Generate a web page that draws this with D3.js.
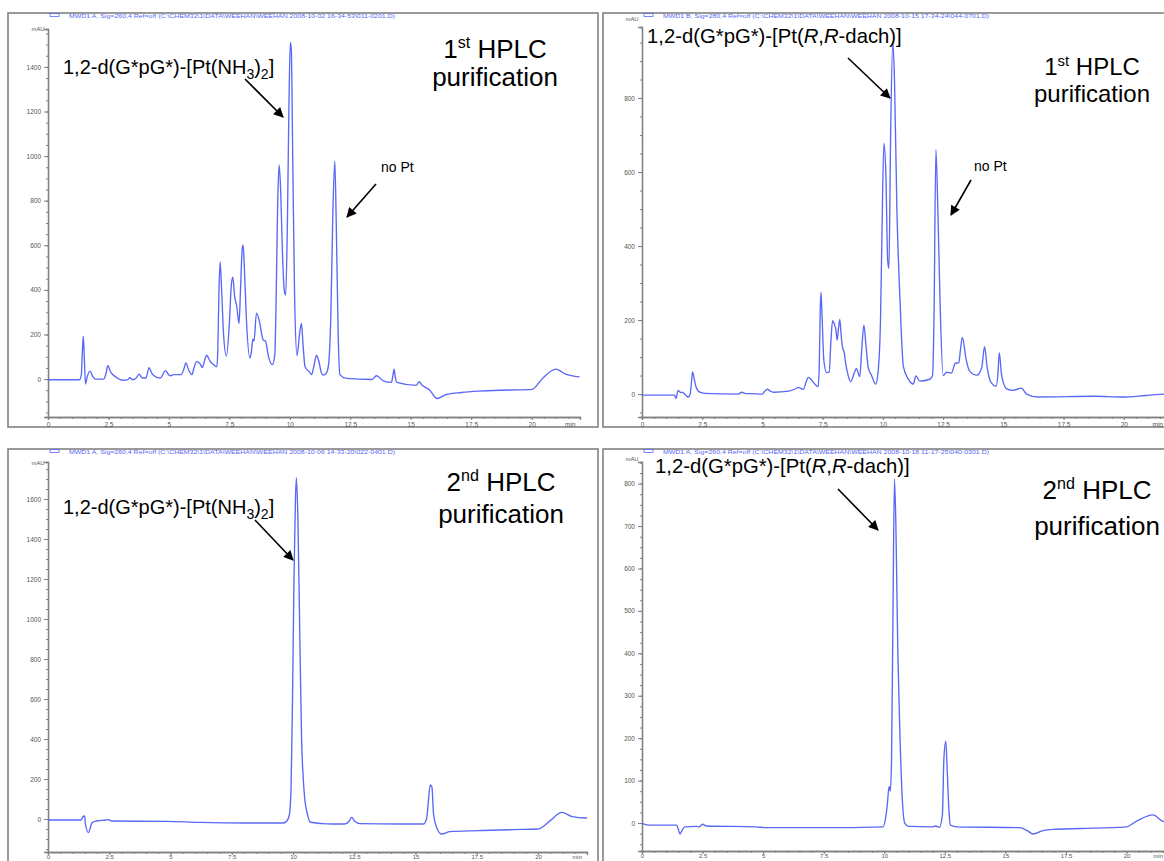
<!DOCTYPE html>
<html><head><meta charset="utf-8">
<script src="https://cdn.jsdelivr.net/npm/d3@7"></script>
<style>body{margin:0;background:#fff}svg{display:block}text{font-family:"Liberation Sans",Arial,sans-serif}</style>
</head><body><svg id="c" width="1164" height="861"></svg>
<script>
// ---------- DATA ----------
const xTicks = [0, 2.5, 5, 7.5, 10, 12.5, 15, 17.5, 20];
const yTicks1 = [0, 200, 400, 600, 800, 1000, 1200, 1400];
const yTicks2 = [0, 200, 400, 600, 800];
const yTicks3 = [0, 200, 400, 600, 800, 1000, 1200, 1400, 1600];
const yTicks4 = [0, 100, 200, 300, 400, 500, 600, 700, 800];

const legend1 = "MWD1 A, Sig=260,4 Ref=off (C:\\CHEM32\\1\\DATA\\WEEHAN\\WEEHAN 2008-10-02 16-34-53\\011-0201.D)";
const legend2 = "MWD1 B, Sig=280,4 Ref=off (C:\\CHEM32\\1\\DATA\\WEEHAN\\WEEHAN 2008-10-15 17-34-24\\044-0701.D)";
const legend3 = "MWD1 A, Sig=260,4 Ref=off (C:\\CHEM32\\1\\DATA\\WEEHAN\\WEEHAN 2008-10-06 14-33-20\\022-0401.D)";
const legend4 = "MWD1 A, Sig=260,4 Ref=off (C:\\CHEM32\\1\\DATA\\WEEHAN\\WEEHAN 2008-10-18 11-17-25\\040-0301.D)";

// [time (min), absorbance (mAU)]
const trace1 = [[0,-3],[1.3,-3],[1.38,20],[1.42,120],[1.46,193],[1.5,100],[1.55,-22],[1.62,10],[1.74,36],[1.85,12],[1.96,0],[2.3,0],[2.4,25],[2.47,60],[2.6,30],[2.8,10],[3.1,-5],[3.3,-2],[3.39,6],[3.5,-3],[3.65,5],[3.77,22],[3.9,5],[4.05,5],[4.18,51],[4.3,25],[4.5,8],[4.65,5],[4.86,38],[5.0,18],[5.07,15],[5.2,20],[5.5,20],[5.62,45],[5.7,73],[5.82,40],[5.95,20],[6.05,55],[6.14,78],[6.28,70],[6.38,52],[6.48,85],[6.56,107],[6.7,80],[6.84,65],[6.98,55],[7.02,120],[7.07,400],[7.12,525],[7.18,400],[7.26,200],[7.38,103],[7.5,250],[7.58,420],[7.64,457],[7.72,370],[7.8,330],[7.9,250],[7.96,400],[8.03,580],[8.07,600],[8.12,500],[8.2,280],[8.35,94],[8.42,130],[8.47,179],[8.52,170],[8.62,296],[8.76,250],[8.84,200],[8.9,175],[9.0,170],[9.1,110],[9.28,65],[9.38,110],[9.44,400],[9.5,800],[9.56,960],[9.62,850],[9.7,550],[9.78,390],[9.83,377],[9.9,700],[9.96,1200],[10.02,1510],[10.06,1480],[10.12,1000],[10.2,354],[10.3,105],[10.4,200],[10.48,250],[10.55,150],[10.63,55],[10.83,30],[10.9,20],[11.0,60],[11.1,107],[11.2,80],[11.3,30],[11.38,18],[11.5,25],[11.59,55],[11.7,300],[11.78,750],[11.86,977],[11.92,700],[12.0,200],[12.07,20],[12.34,3],[13.4,-2],[13.58,15],[13.87,-8],[14.2,-15],[14.27,20],[14.31,45],[14.36,10],[14.42,-15],[15.23,-28],[15.35,-12],[15.45,-25],[15.78,-49],[16.09,-87],[16.47,-69],[17.1,-60],[17.8,-54],[19.1,-49],[20.01,-46],[20.46,4],[21.0,45],[21.4,22],[21.98,10]];

const trace2 = [[0,-3],[1.35,-3],[1.41,-12],[1.5,10],[1.6,4],[1.67,5],[1.8,-2],[1.92,-8],[2.0,0],[2.05,30],[2.1,60],[2.17,40],[2.24,20],[2.4,5],[2.6,2],[4.0,0],[4.14,5],[4.3,1],[4.48,1],[5.0,0],[5.1,8],[5.21,13],[5.35,7],[5.45,5],[6.1,8],[6.4,15],[6.49,18],[6.6,15],[6.7,13],[6.8,30],[6.9,45],[7.04,38],[7.2,25],[7.31,20],[7.36,80],[7.4,230],[7.43,275],[7.48,200],[7.55,90],[7.66,58],[7.77,60],[7.84,140],[7.91,198],[7.98,190],[8.05,173],[8.1,146],[8.16,180],[8.21,202],[8.26,165],[8.32,128],[8.4,110],[8.46,80],[8.56,50],[8.66,33],[8.8,55],[8.9,69],[9.04,47],[9.12,120],[9.21,186],[9.3,130],[9.39,72],[9.53,50],[9.7,27],[9.8,60],[9.9,200],[9.96,430],[10.04,678],[10.12,600],[10.2,360],[10.25,340],[10.32,700],[10.41,951],[10.48,850],[10.58,500],[10.71,254],[10.85,74],[11.05,41],[11.26,27],[11.37,49],[11.53,35],[11.95,40],[12.06,50],[12.12,200],[12.2,660],[12.28,500],[12.37,254],[12.5,50],[12.65,59],[12.85,57],[13.0,83],[13.15,85],[13.22,120],[13.3,153],[13.45,95],[13.6,62],[13.9,51],[14.1,71],[14.22,128],[14.33,71],[14.5,30],[14.7,21],[14.78,60],[14.83,112],[14.93,50],[15.14,14],[15.4,10],[15.75,16],[15.96,0],[16.44,-8],[18.8,-6],[19.9,-8],[20.9,-4],[21.7,0],[22,0]];

const trace3 = [[0,-5],[1.35,-5],[1.42,10],[1.5,15],[1.52,-20],[1.65,-68],[1.8,-18],[2.0,-10],[2.35,-5],[2.46,-3],[2.6,-10],[4.84,-12],[6.2,-17],[8.1,-20],[9.6,-20],[9.75,-10],[9.85,20],[9.92,150],[9.98,600],[10.04,1200],[10.1,1600],[10.14,1705],[10.2,1500],[10.28,900],[10.35,400],[10.42,200],[10.5,80],[10.56,40],[10.7,-15],[11.2,-23],[11.6,-25],[12.1,-25],[12.3,-10],[12.39,8],[12.53,-12],[12.73,-23],[14.37,-25],[15.32,-25],[15.45,0],[15.52,80],[15.6,170],[15.67,160],[15.74,20],[15.88,-47],[16.07,-75],[16.4,-63],[17.6,-58],[19.0,-53],[20.01,-50],[20.5,-8],[20.97,33],[21.4,12],[21.92,5],[22,5]];

const trace4 = [[0,-1],[0.26,-5],[1.36,-5],[1.43,-5],[1.5,-15],[1.57,-26],[1.65,-18],[1.77,-9],[2.25,-8],[2.36,-9],[2.5,-3],[2.66,-7],[4.7,-9],[5.1,-11],[7.4,-11],[9.95,-9],[10.05,10],[10.12,40],[10.2,86],[10.25,75],[10.3,150],[10.36,500],[10.42,811],[10.48,700],[10.56,400],[10.65,200],[10.75,50],[10.85,-1],[11.0,-8],[12.01,-9],[12.12,-7],[12.28,-10],[12.4,20],[12.46,150],[12.54,193],[12.6,120],[12.68,20],[12.73,-5],[13.0,-9],[15.59,-11],[15.9,-18],[16.14,-26],[16.55,-18],[16.96,-15],[18.1,-13],[19.99,-9],[20.4,4],[21.09,19],[21.5,4],[22,0]];

const compoundNH3 = "1,2-d(G*pG*)-[Pt(NH3)2]";
const compoundDach = "1,2-d(G*pG*)-[Pt(R,R-dach)]";
const purification1 = ["1", "st", " HPLC", "purification"];
const purification2 = ["2", "nd", " HPLC", "purification"];
const noPt = "no Pt";

// ---------- LAYOUT ----------
const svg = d3.select("#c");
svg.append("rect").attr("width",1164).attr("height",861).attr("fill","#fff");

const panels = [
  {trace:trace1, yTicks:yTicks1, legend:legend1, frame:[8,13,598,427], x0:48, x1:580, yb:417, yt:29, ydom:[-170,1570], ymin:50, minEnd:false, mauY:31, xfs:6.5, xpad:2},
  {trace:trace2, yTicks:yTicks2, legend:legend2, frame:[603,13,1175,427], x0:642, x1:1172, yb:417, yt:27, ydom:[-62,992], ymin:50, minEnd:true, mauY:21, xfs:6.5, xpad:2},
  {trace:trace3, yTicks:yTicks3, legend:legend3, frame:[8,449,598,870], x0:48, x1:587, yb:852, yt:462, ydom:[-165,1785], ymin:50, minEnd:false, mauY:465, xfs:6, xpad:0},
  {trace:trace4, yTicks:yTicks4, legend:legend4, frame:[603,449,1175,870], x0:642, x1:1175, yb:851, yt:462, ydom:[-66,851], ymin:25, minEnd:true, mauY:461, xfs:6, xpad:0}
];
const blue = "#5a68f6";

panels.forEach(p => {
  const g = svg.append("g");
  const [fx0,fy0,fx1,fy1] = p.frame;
  g.append("rect").attr("x",fx0).attr("y",fy0).attr("width",fx1-fx0).attr("height",fy1-fy0)
    .attr("fill","none").attr("stroke","#7a7a7a").attr("stroke-width",1.5);
  const x = d3.scaleLinear().domain([0,22]).range([p.x0,p.x1]);
  const y = d3.scaleLinear().domain(p.ydom).range([p.yb,p.yt]);

  // legend
  g.append("rect").attr("x",p.x0+2).attr("y",fy0+0.5).attr("width",9).attr("height",3)
    .attr("fill","none").attr("stroke",blue).attr("stroke-width",0.8);
  g.append("text").attr("x",p.x0+21).attr("y",fy0+4.5).attr("font-size",5.6).attr("fill",blue)
    .attr("textLength",326).attr("lengthAdjust","spacingAndGlyphs").text(p.legend);
  // mAU
  g.append("text").attr("x",p.x0-10).attr("y",p.mauY).attr("text-anchor","middle").attr("font-size",5.8).attr("fill","#555").text("mAU");

  // y axis
  const yMinor = d3.range(Math.ceil(p.ydom[0]/p.ymin)*p.ymin, p.ydom[1], p.ymin);
  const ya = g.append("g").attr("transform",`translate(${p.x0},0)`);
  ya.call(d3.axisLeft(y).tickValues(yMinor).tickSize(2).tickFormat(""));
  ya.append("g").call(d3.axisLeft(y).tickValues(p.yTicks).tickSize(4).tickPadding(3).tickFormat(d3.format("d")));
  ya.selectAll("path").attr("stroke","#808080").attr("stroke-width",1.3);
  ya.selectAll("line").attr("stroke","#808080");
  ya.selectAll("text").attr("font-size",6.5).attr("fill","#555").attr("font-family","Liberation Sans, Arial");

  // x axis
  const xMinor = d3.range(0, 22.01, 0.5);
  const xa = g.append("g").attr("transform",`translate(0,${p.yb})`);
  xa.call(d3.axisBottom(x).tickValues(xMinor).tickSize(2).tickFormat(""));
  xa.append("g").call(d3.axisBottom(x).tickValues(xTicks).tickSize(3).tickPadding(p.xpad).tickFormat(d => String(d)));
  xa.selectAll("path").attr("stroke","#808080").attr("stroke-width",1.3);
  xa.selectAll("line").attr("stroke","#808080");
  xa.selectAll("text").attr("font-size",p.xfs).attr("fill","#555").attr("font-family","Liberation Sans, Arial");
  const minY = p.yb + 3 + p.xpad + p.xfs*0.71;
  if (p.minEnd) {
    g.append("text").attr("x",1163).attr("y",minY).attr("text-anchor","end").attr("font-size",p.xfs).attr("fill","#555").text("min");
  } else {
    g.append("text").attr("x",x(21.6)).attr("y",minY).attr("text-anchor","middle").attr("font-size",p.xfs).attr("fill","#555").text("min");
  }

  // trace
  g.append("path").datum(p.trace).attr("fill","none").attr("stroke",blue).attr("stroke-width",1.35)
    .attr("stroke-linejoin","round")
    .attr("d", d3.line().x(d=>x(d[0])).y(d=>y(d[1])).curve(d3.curveMonotoneX));
});

// ---------- ANNOTATIONS ----------
const defs = svg.append("defs");
defs.append("marker").attr("id","ah").attr("viewBox","0 0 10 10").attr("refX",9).attr("refY",5)
  .attr("markerWidth",13).attr("markerHeight",10).attr("orient","auto").attr("markerUnits","userSpaceOnUse")
  .append("path").attr("d","M0,0L10,5L0,10z").attr("fill","#000");

function arrow(x1,y1,x2,y2){
  svg.append("line").attr("x1",x1).attr("y1",y1).attr("x2",x2).attr("y2",y2)
    .attr("stroke","#000").attr("stroke-width",1.6).attr("marker-end","url(#ah)");
}
function nh3(xp,yp){
  const t = svg.append("text").attr("x",xp).attr("y",yp).attr("font-size",20).attr("fill","#000");
  t.append("tspan").text(compoundNH3.slice(0,19));
  t.append("tspan").attr("font-size",14).attr("dy",5).text("3");
  t.append("tspan").attr("dy",-5).text(")");
  t.append("tspan").attr("font-size",14).attr("dy",5).text("2");
  t.append("tspan").attr("dy",-5).text("]");
}
function dach(xp,yp){
  const t = svg.append("text").attr("x",xp).attr("y",yp).attr("font-size",20.3).attr("fill","#000");
  t.append("tspan").text(compoundDach.slice(0,17));
  t.append("tspan").attr("font-style","italic").text("R");
  t.append("tspan").text(",");
  t.append("tspan").attr("font-style","italic").text("R");
  t.append("tspan").text(compoundDach.slice(20));
}
function purif(words,cx,y1,y2,fs){
  const t = svg.append("text").attr("x",cx).attr("y",y1).attr("text-anchor","middle").attr("font-size",fs).attr("fill","#000");
  t.append("tspan").text(words[0]);
  t.append("tspan").attr("font-size",fs*0.62).attr("dy",-fs*0.38).text(words[1]);
  t.append("tspan").attr("dy",fs*0.38).text(words[2]);
  svg.append("text").attr("x",cx).attr("y",y2).attr("text-anchor","middle").attr("font-size",fs).attr("fill","#000").text(words[3]);
}
function label(txt,xp,yp){
  svg.append("text").attr("x",xp).attr("y",yp).attr("font-size",14).attr("fill","#000").text(txt);
}

nh3(63,74);
purif(purification1,495,58,86,26);
arrow(245,79,283,117);
label(noPt,381,172);
arrow(376,184,347,217);

dach(647,43);
purif(purification1,1092,75,102,24);
arrow(848,58,890,98);
label(noPt,974,171);
arrow(971,180,951,215);

nh3(63,514);
purif(purification2,501,491,523,26);
arrow(255,520,293,560);

dach(655,473);
purif(purification2,1097,499,535,26);
arrow(838,489,878,530);
</script></body></html>
